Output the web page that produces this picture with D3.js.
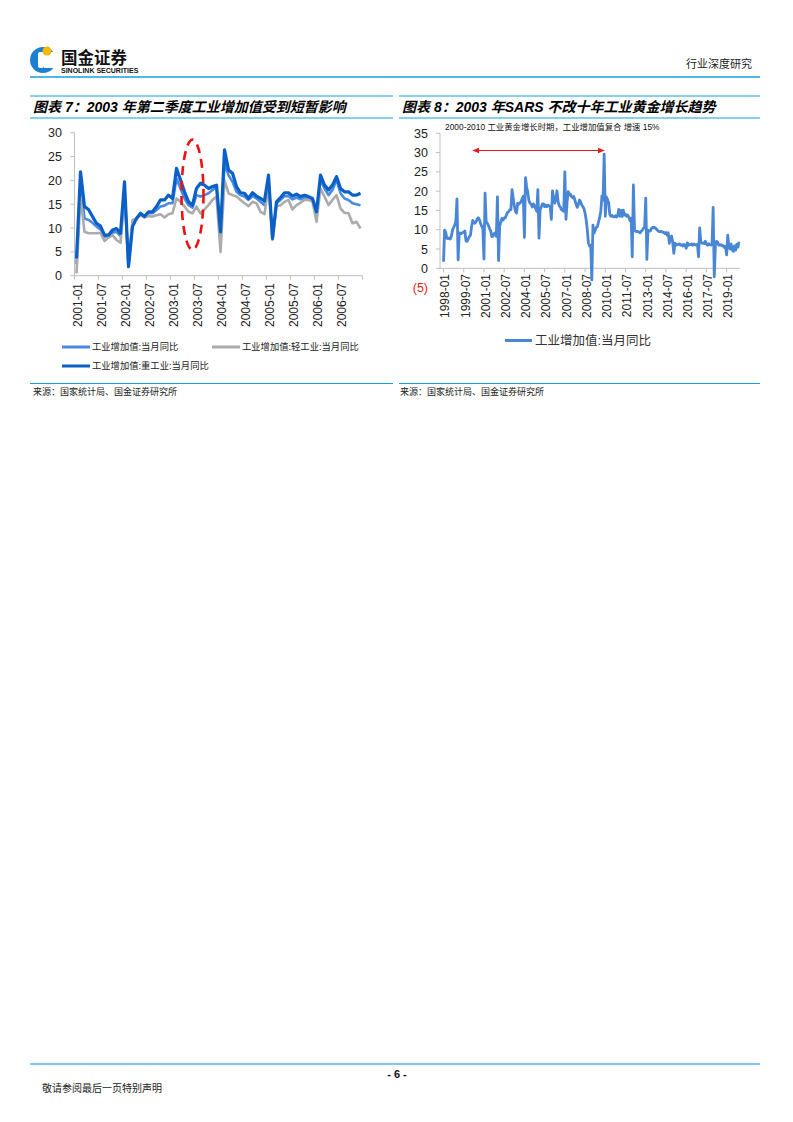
<!DOCTYPE html>
<html><head><meta charset="utf-8">
<script src="https://cdn.jsdelivr.net/npm/d3@7"></script>
<style>body{margin:0;background:#fff}svg{display:block}</style>
</head><body><svg id="page" width="793" height="1122"></svg>
<script>
// ---------- data ----------
const leftMonths = d3.timeMonth.range(new Date(2001,0,1), new Date(2007,0,1)).map(d3.timeFormat("%Y-%m"));
const leftTickLabels = ["2001-01","2001-07","2002-01","2002-07","2003-01","2003-07","2004-01","2004-07","2005-01","2005-07","2006-01","2006-07"];
const leftYTicks = [0,5,10,15,20,25,30];
const ipTotal2001_2006 = [
  2.4,19.5,12.0,11.7,11.1,10.3,9.7,8.2,8.3,9.0,9.2,8.3,
  18.5,2.0,11.0,12.0,12.9,12.5,13.1,13.1,13.8,14.5,14.7,15.2,
  15.2,20.4,18.3,16.2,14.8,14.3,16.9,16.6,16.9,17.3,18.0,18.7,
  8.0,23.5,21.1,19.7,17.6,16.9,16.6,15.9,16.7,16.2,15.5,14.8,
  20.4,7.8,15.2,15.9,16.7,16.7,16.0,16.4,16.0,16.4,16.2,15.9,
  12.7,20.1,18.3,16.9,18.0,20.1,17.3,16.2,15.9,15.2,15.0,14.8];
const ipLight = [
  0.5,16.5,9.2,8.9,8.9,8.9,9.0,7.3,8.0,8.5,7.5,6.9,
  16.5,2.2,11.7,12.0,12.7,12.2,12.5,12.4,12.7,12.9,12.2,12.9,
  13.1,16.2,15.5,14.5,13.4,13.1,14.5,13.0,13.9,14.8,15.9,16.6,
  5.0,20.0,17.3,16.9,16.6,15.9,15.2,14.6,15.5,15.2,13.4,12.9,
  19.0,7.5,14.6,14.8,15.5,15.9,13.9,14.8,15.3,15.9,15.9,15.5,
  11.3,18.3,16.6,14.8,15.9,16.9,14.1,13.2,13.1,11.0,11.3,9.9];
const ipHeavy = [
  3.6,21.8,14.5,13.9,12.4,11.0,10.4,8.5,8.5,9.6,9.9,8.9,
  19.7,1.9,10.3,12.0,13.1,12.4,13.4,13.4,14.5,15.9,15.9,16.9,
  16.2,22.5,20.1,17.6,15.5,14.8,18.3,19.4,19.0,18.3,18.7,19.0,
  9.2,26.4,22.2,21.5,18.7,17.4,17.3,16.2,17.4,16.7,16.2,15.7,
  21.1,7.8,15.5,16.4,17.4,17.4,16.7,17.1,16.6,16.9,16.6,16.2,
  13.4,21.1,19.0,18.0,19.0,20.8,18.3,17.6,17.6,16.9,16.9,17.3];
const leftSeriesNames = ["工业增加值:当月同比","工业增加值:轻工业:当月同比","工业增加值:重工业:当月同比"];

const rightMonths = d3.timeMonth.range(new Date(1998,0,1), new Date(2020,0,1)).map(d3.timeFormat("%Y-%m"));
const rightTickLabels = ["1998-01","1999-07","2001-01","2002-07","2004-01","2005-07","2007-01","2008-07","2010-01","2011-07","2013-01","2014-07","2016-01","2017-07","2019-01"];
const rightYTicks = [-5,0,5,10,15,20,25,30,35];
const ipTotal1998_2019 = [
  1.7,9.9,9.3,7.8,7.7,7.9,7.6,8.3,9.9,10.6,11.2,12.2,
  18.0,2.2,9.2,9.1,9.0,9.3,9.3,9.7,7.1,7.0,7.6,8.2,
  8.6,10.8,12.4,12.0,11.7,12.1,12.8,13.1,12.6,11.6,10.9,10.4,
  2.4,19.5,12.0,11.7,11.1,10.3,9.7,8.2,8.3,9.0,9.2,8.3,
  18.5,2.0,11.0,12.0,12.9,12.5,13.1,13.1,13.8,14.5,14.7,15.2,
  15.2,20.4,18.3,16.2,14.8,14.3,16.9,16.6,16.9,17.3,18.0,18.7,
  8.0,23.5,21.1,19.7,17.6,16.9,16.6,15.9,16.7,16.2,15.5,14.8,
  20.4,7.8,15.2,15.9,16.7,16.7,16.0,16.4,16.0,16.4,16.2,15.9,
  12.7,20.1,18.3,16.9,18.0,20.1,17.3,16.2,15.9,15.2,15.0,14.8,
  25.0,12.7,17.2,19.9,19.0,19.2,18.6,18.3,18.6,17.6,16.6,15.8,
  16.5,17.7,17.3,16.4,16.0,15.5,14.3,12.5,10.0,6.5,5.8,6.0,
  -3.0,11.2,9.1,9.9,10.6,10.8,12.0,13.2,14.8,18.8,17.7,29.6,
  13.5,18.5,17.8,17.0,14.0,13.5,13.7,13.4,13.3,13.6,13.3,13.7,
  15.3,13.5,15.0,13.4,15.1,13.8,14.0,13.5,13.8,13.2,12.4,13.0,
  3.0,21.6,9.9,9.6,9.5,9.6,9.4,9.2,9.6,9.9,10.4,10.6,
  18.2,2.3,9.9,9.6,9.7,10.3,10.6,10.5,10.6,10.3,10.0,9.7,
  9.5,9.5,9.6,9.4,9.3,9.0,9.3,8.6,9.2,6.5,7.8,8.4,
  6.8,3.9,6.5,6.0,6.1,6.2,6.3,6.0,6.1,5.8,6.2,6.0,
  5.2,6.6,6.0,6.2,6.1,6.3,6.0,6.3,6.1,6.1,6.2,3.0,
  10.5,6.8,6.5,6.6,6.4,7.0,6.3,6.0,6.4,6.1,6.0,6.2,
  15.8,-2.2,6.0,7.0,6.8,6.0,6.0,6.1,5.8,5.9,5.4,5.7,
  3.5,8.6,5.4,5.0,6.3,4.8,4.4,5.8,4.7,6.2,5.5,6.9];
const rightSeriesName = "工业增加值:当月同比";

// ---------- page ----------
const svg = d3.select("#page");
const CJK = "'Liberation Sans','Noto Sans CJK SC',sans-serif";
const AX = "#bfbfbf";

// header logo
const logo = svg.append("g");
logo.append("circle").attr("cx",43).attr("cy",60).attr("r",13).attr("fill","#1d7fd0");
logo.append("rect").attr("x",44).attr("y",52).attr("width",13).attr("height",16).attr("fill","#fff");
logo.append("rect").attr("x",38).attr("y",52).attr("width",6).attr("height",16).attr("rx",2).attr("fill","#fff");
logo.append("circle").attr("cx",47).attr("cy",51).attr("r",4.5).attr("fill","#f5b800");
svg.append("text").attr("x",61).attr("y",64).attr("font-family",CJK).attr("font-weight","bold")
  .attr("font-size",16.5).attr("fill","#111").text("国金证券");
svg.append("text").attr("x",61).attr("y",72.5).attr("font-family","'Liberation Sans',sans-serif").attr("font-weight","bold")
  .attr("font-size",7).attr("fill","#111").text("SINOLINK SECURITIES");
svg.append("text").attr("x",752).attr("y",68).attr("text-anchor","end").attr("font-family",CJK)
  .attr("font-size",11).attr("fill","#222").text("行业深度研究");
svg.append("line").attr("x1",30).attr("x2",760).attr("y1",77).attr("y2",77).attr("stroke","#139ee0").attr("stroke-width",1.5);

// title / source frames
function frame(x1,x2,title,srcX){
  svg.append("line").attr("x1",x1).attr("x2",x2).attr("y1",96).attr("y2",96).attr("stroke","#139ee0").attr("stroke-width",1);
  svg.append("line").attr("x1",x1).attr("x2",x2).attr("y1",118).attr("y2",118).attr("stroke","#139ee0").attr("stroke-width",1);
  svg.append("text").attr("x",x1+3).attr("y",112).attr("font-family",CJK).attr("font-weight","bold")
    .attr("font-style","italic").attr("font-size",14).attr("fill","#000").text(title);
  svg.append("line").attr("x1",x1).attr("x2",x2).attr("y1",383.5).attr("y2",383.5).attr("stroke","#139ee0").attr("stroke-width",1);
  svg.append("text").attr("x",srcX).attr("y",395).attr("font-family",CJK).attr("font-size",9).attr("fill","#222")
    .text("来源：国家统计局、国金证券研究所");
}
frame(30,393,"图表 7：2003 年第二季度工业增加值受到短暂影响",33);
frame(399,760,"图表 8：2003 年SARS 不改十年工业黄金增长趋势",400);

// ---------- left chart ----------
const xL = d3.scaleBand().domain(leftMonths).range([74.5,362.5]).padding(0);
const bwL = xL.bandwidth();
const yL = d3.scaleLinear().domain([0,30]).range([275.7,132.7]);
const gL = svg.append("g");
gL.append("line").attr("x1",74.5).attr("x2",74.5).attr("y1",yL(30)).attr("y2",yL(0)).attr("stroke",AX);
gL.append("line").attr("x1",74.5).attr("x2",362.5).attr("y1",yL(0)).attr("y2",yL(0)).attr("stroke",AX);
leftYTicks.forEach(v=>{
  gL.append("line").attr("x1",70.5).attr("x2",74.5).attr("y1",yL(v)).attr("y2",yL(v)).attr("stroke",AX);
  gL.append("text").attr("x",62).attr("y",yL(v)).attr("dy","0.36em").attr("text-anchor","end")
    .attr("font-family","'Liberation Sans',sans-serif").attr("font-size",12.5).attr("fill","#222").text(v);
});
const leftTickPos = leftTickLabels.map(l=>xL(l)).concat([362.5]);
leftTickPos.forEach(x=>gL.append("line").attr("x1",x).attr("x2",x).attr("y1",yL(0)).attr("y2",yL(0)+4).attr("stroke",AX));
leftTickLabels.forEach(l=>{
  const x = xL(l)+bwL/2+1.5;
  gL.append("text").attr("transform",`translate(${x},283) rotate(-90)`).attr("dy","0.36em").attr("text-anchor","end")
    .attr("font-family","'Liberation Sans',sans-serif").attr("font-size",12).attr("fill","#222").text(l);
});
const lineL = d3.line().x((d,i)=>xL(leftMonths[i])+bwL/2).y(d=>yL(d));
const leftSeries = [
  {v:ipTotal2001_2006,c:"#4a8ae0",w:2.6},
  {v:ipLight,c:"#ababab",w:2.6},
  {v:ipHeavy,c:"#0b60c8",w:3.2}];
leftSeries.forEach(s=>gL.append("path").attr("d",lineL(s.v)).attr("fill","none").attr("stroke",s.c)
  .attr("stroke-width",s.w).attr("stroke-linejoin","round"));
// dashed ellipse highlight
gL.append("ellipse").attr("cx",xL("2003-06")+bwL/2).attr("cy",yL(17)).attr("rx",11).attr("ry",55)
  .attr("fill","none").attr("stroke","#ee1111").attr("stroke-width",2.6).attr("stroke-dasharray","9,6");
// legend
const legL = [
  {x:62,y:347,i:0},{x:212,y:347,i:1},{x:62,y:366,i:2}];
legL.forEach(o=>{
  const s = leftSeries[o.i];
  gL.append("line").attr("x1",o.x).attr("x2",o.x+28).attr("y1",o.y).attr("y2",o.y).attr("stroke",s.c).attr("stroke-width",3);
  gL.append("text").attr("x",o.x+30).attr("y",o.y).attr("dy","0.36em").attr("font-family",CJK)
    .attr("font-size",9.3).attr("fill","#222").text(leftSeriesNames[o.i]);
});

// ---------- right chart ----------
const xR = d3.scalePoint().domain(rightMonths).range([443.5,739]);
const yR = d3.scaleLinear().domain([-5,35]).range([287.6,133.3]);
const gR = svg.append("g");
gR.append("line").attr("x1",440).attr("x2",440).attr("y1",yR(35)).attr("y2",yR(0)).attr("stroke",AX);
gR.append("line").attr("x1",440).attr("x2",740).attr("y1",yR(0)).attr("y2",yR(0)).attr("stroke",AX);
rightYTicks.forEach(v=>{
  if(v>=0) gR.append("line").attr("x1",436).attr("x2",440).attr("y1",yR(v)).attr("y2",yR(v)).attr("stroke",AX);
  gR.append("text").attr("x",428).attr("y",yR(v)).attr("dy","0.36em").attr("text-anchor","end")
    .attr("font-family","'Liberation Sans',sans-serif").attr("font-size",12.5)
    .attr("fill",v<0?"#e31b1b":"#222").text(v<0?`(${-v})`:v);
});
rightTickLabels.forEach(l=>{
  const x = xR(l);
  gR.append("line").attr("x1",x).attr("x2",x).attr("y1",yR(0)).attr("y2",yR(0)+4).attr("stroke",AX);
  gR.append("text").attr("transform",`translate(${x+1.5},274) rotate(-90)`).attr("dy","0.36em").attr("text-anchor","end")
    .attr("font-family","'Liberation Sans',sans-serif").attr("font-size",12).attr("fill","#222").text(l);
});
const lineR = d3.line().x((d,i)=>xR(rightMonths[i])).y(d=>yR(d));
gR.append("path").attr("d",lineR(ipTotal1998_2019)).attr("fill","none").attr("stroke","#4a86d6")
  .attr("stroke-width",2.8).attr("stroke-linejoin","round");
// annotation
gR.append("text").attr("x",445).attr("y",130).attr("font-family",CJK).attr("font-size",8.4).attr("fill","#111")
  .text("2000-2010 工业黄金增长时期，工业增加值复合 增速 15%");
const defs = svg.append("defs");
defs.append("marker").attr("id","ah").attr("viewBox","0 0 10 10").attr("refX",9).attr("refY",5)
  .attr("markerWidth",6).attr("markerHeight",6).attr("orient","auto-start-reverse")
  .append("path").attr("d","M0,1 L10,5 L0,9 Z").attr("fill","#e31b1b");
gR.append("line").attr("x1",473).attr("x2",604).attr("y1",150.5).attr("y2",150.5).attr("stroke","#e31b1b")
  .attr("stroke-width",1.2).attr("marker-start","url(#ah)").attr("marker-end","url(#ah)");
// legend
gR.append("line").attr("x1",505).attr("x2",532).attr("y1",340.5).attr("y2",340.5).attr("stroke","#4a86d6").attr("stroke-width",3);
gR.append("text").attr("x",535).attr("y",340.5).attr("dy","0.36em").attr("font-family",CJK).attr("font-size",12.5)
  .attr("fill","#333").text(rightSeriesName);

// ---------- footer ----------
svg.append("line").attr("x1",30).attr("x2",760).attr("y1",1064).attr("y2",1064).attr("stroke","#7ccaf0").attr("stroke-width",2);
svg.append("text").attr("x",397).attr("y",1078).attr("text-anchor","middle").attr("font-family","'Liberation Sans',sans-serif")
  .attr("font-weight","bold").attr("font-size",11).attr("fill","#111").text("- 6 -");
svg.append("text").attr("x",42).attr("y",1092).attr("font-family",CJK).attr("font-size",10).attr("fill","#222").text("敬请参阅最后一页特别声明");
</script></body></html>
